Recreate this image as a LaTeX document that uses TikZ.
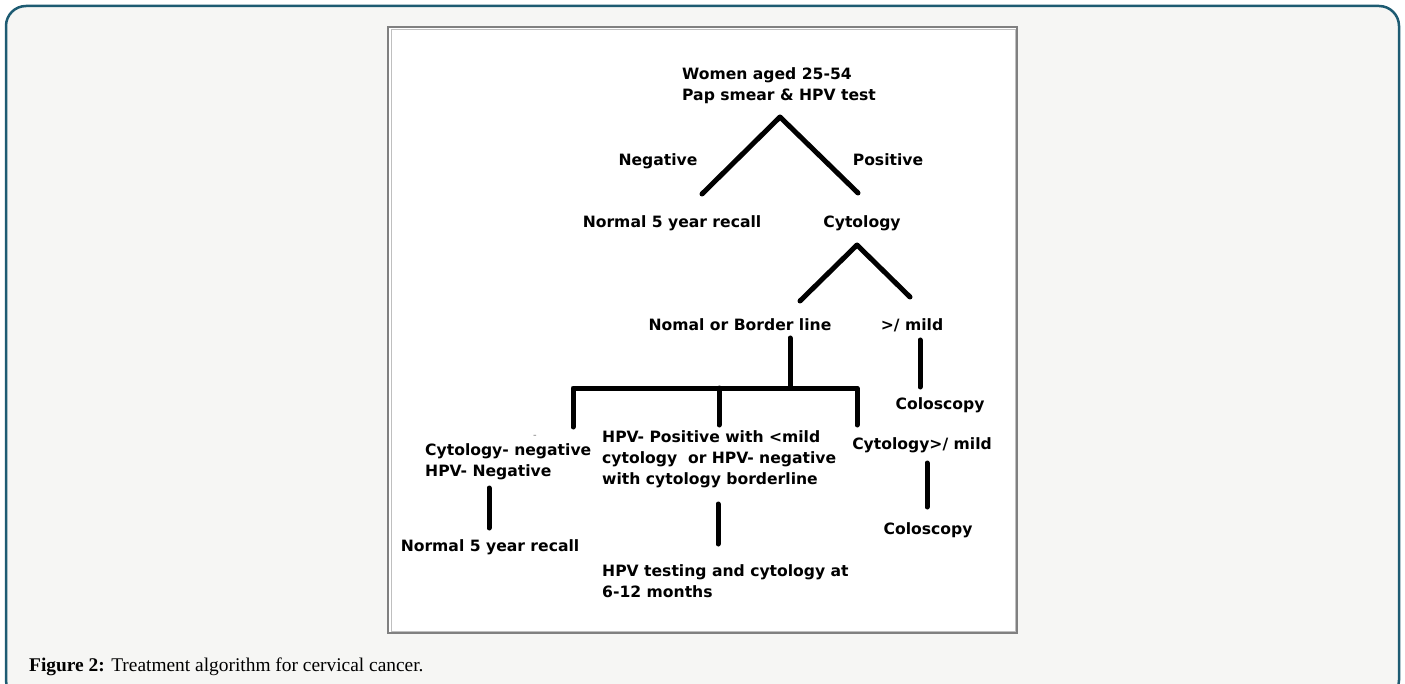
\documentclass[tikz,border=0pt]{standalone}
\usepackage{fontspec}
\setmainfont{Liberation Serif}
\newfontfamily\chartfont{DejaVu Sans}
\definecolor{framecol}{HTML}{1D5B72}
\definecolor{pagecol}{HTML}{F6F6F4}
\begin{document}
\begin{tikzpicture}[x=1pt,y=-1pt]
    \tikzstyle{lines}=[line width=5pt,line cap=round,line join=round]
    \tikzstyle{txt}=[font=\chartfont\bfseries\fontsize{15.6}{21}\selectfont,inner sep=0pt]
    \tikzstyle{blk}=[txt,align=left,anchor=west]
    \useasboundingbox (0,0) rectangle (1405,684);
    \draw[framecol,fill=pagecol,line width=2.5pt,rounded corners=20pt] (6,6) rectangle (1399,700);
    \draw[gray,fill=white,line width=1.5pt] (388,27) rectangle (1017,633);
    \draw[black!25,line width=1pt] (391,30) rectangle (1015,631);

    \node[blk] (top) at (682,86) {Women aged 25-54\\Pap smear \& HPV test};
    \node[txt] (neglab) at (658,161) {Negative};
    \node[txt] (poslab) at (888,160) {Positive};
    \node[txt] (recall1) at (672,223) {Normal 5 year recall};
    \node[txt] (cyto) at (862,223) {Cytology};
    \node[txt] (border) at (740,325) {Nomal or Border line};
    \node[txt] (mild) at (912,325) {>/ mild};
    \node[txt] (colo1) at (940,405) {Coloscopy};
    \node[txt,black!50,font=\chartfont\fontsize{10}{10}\selectfont] (stray) at (535,437) {-};
    \node[blk] (bothneg) at (425,462) {Cytology- negative\\HPV- Negative};
    \node[blk] (mixed) at (602,459) {HPV- Positive with <mild\\cytology\ \ or HPV- negative\\with cytology borderline};
    \node[txt] (cytomild) at (922,445) {Cytology>/ mild};
    \node[txt] (recall2) at (490,547) {Normal 5 year recall};
    \node[blk] (retest) at (602,581) {HPV testing and cytology at\\6-12 months};
    \node[txt] (colo2) at (928,530) {Coloscopy};

    \coordinate (topfork) at (780,117);
    \coordinate (negend) at (702,194);
    \coordinate (posend) at (858,193);
    \coordinate (cytofork) at (857,245);
    \coordinate (borderend) at (800,301);
    \coordinate (mildend) at (910,297);
    \coordinate (mildtop) at (920,340);
    \coordinate (mildbot) at (920,387);
    \coordinate (bordertop) at (790,338);
    \coordinate (barjoin) at (790,388);
    \coordinate (barL) at (573,388);
    \coordinate (barM) at (719,388);
    \coordinate (barR) at (857,388);
    \coordinate (dropL) at (573,427);
    \coordinate (dropM) at (719,425);
    \coordinate (dropR) at (857,425);
    \coordinate (negtop) at (489,488);
    \coordinate (negbot) at (489,528);
    \coordinate (mixtop) at (718,504);
    \coordinate (mixbot) at (718,544);
    \coordinate (cmtop) at (927,463);
    \coordinate (cmbot) at (927,507);

    \draw[lines] (negend) -- (topfork) -- (posend);
    \draw[lines] (borderend) -- (cytofork) -- (mildend);
    \draw[lines] (mildtop) -- (mildbot);
    \draw[lines] (bordertop) -- (barjoin);
    \draw[lines] (dropL) -- (barL) -- (barR) -- (dropR);
    \draw[lines] (barM) -- (dropM);
    \draw[lines] (negtop) -- (negbot);
    \draw[lines] (mixtop) -- (mixbot);
    \draw[lines] (cmtop) -- (cmbot);

    \node[anchor=base west,inner sep=0pt,font=\fontsize{19.4}{23}\selectfont] (caption) at (29,671) {\textbf{Figure 2:} Treatment algorithm for cervical cancer.};
\end{tikzpicture}
\end{document}
